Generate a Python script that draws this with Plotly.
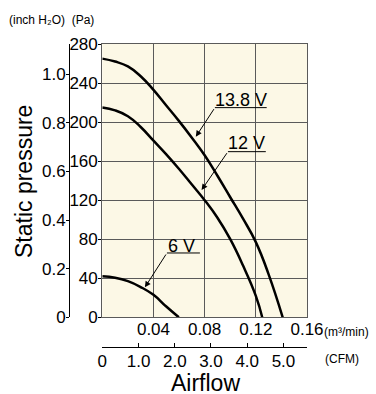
import plotly.graph_objects as go

# airflow (m3/min) vs static pressure (Pa)
q_138 = [0, 0.01, 0.02, 0.03, 0.04, 0.05, 0.06, 0.07, 0.08, 0.09, 0.10, 0.11, 0.12, 0.13, 0.141]
p_138 = [265, 262, 257, 247, 233, 217, 201, 184, 166, 145, 123, 101, 77, 44, 0]

q_12 = [0, 0.01, 0.02, 0.03, 0.04, 0.05, 0.06, 0.07, 0.08, 0.09, 0.10, 0.11, 0.12, 0.125]
p_12 = [215, 212, 206, 195, 181, 167, 152, 136, 120, 102, 80, 53, 22, 0]

q_6 = [0, 0.01, 0.02, 0.03, 0.04, 0.05, 0.0598]
p_6 = [42, 40.5, 37, 31, 23, 11, 0]

pa_ticks = [0, 40, 80, 120, 160, 200, 240, 280]
m3_ticks = [0.04, 0.08, 0.12, 0.16]
m3_labels = ["0.04", "0.08", "0.12", "0.16"]
inch_ticks = [0, 0.2, 0.4, 0.6, 0.8, 1.0]
inch_labels = ["0", "0.2", "0.4", "0.6", "0.8", "1.0"]
cfm_ticks = [0, 1, 2, 3, 4, 5]
cfm_labels = ["0", "1.0", "2.0", "3.0", "4.0", "5.0"]

PA_PER_INCH = 249.089
M3_PER_CFM = 0.0283168

W, H = 376, 394
ML, MR, MT, MB = 60, 69, 44, 44
PW, PH = W - ML - MR, H - MT - MB

def px(x):
    return (x - ML) / PW

def py(y):
    return (H - MB - y) / PH

TICKFONT = dict(family="Liberation Sans Narrow, Arial Narrow, Arial", size=17, color="black")
GRID = "#5a5a5a"

fig = go.Figure()
for q, p in [(q_138, p_138), (q_12, p_12), (q_6, p_6)]:
    fig.add_trace(go.Scatter(x=q, y=p, mode="lines",
                             line=dict(color="black", width=2.5, shape="spline", smoothing=1.3),
                             showlegend=False, hoverinfo="skip"))
# empty trace so the secondary (inch H2O / CFM) axes get drawn
fig.add_trace(go.Scatter(x=[], y=[], xaxis="x2", yaxis="y2", showlegend=False, hoverinfo="skip"))

fig.update_layout(
    width=W, height=H, margin=dict(l=ML, r=MR, t=MT, b=MB),
    paper_bgcolor="white", plot_bgcolor="#fcf8e6",
    font=dict(family="Arial, Liberation Sans", color="black"),
    xaxis=dict(domain=[px(102.3), 1], range=[0, 0.16], tickvals=m3_ticks, ticktext=m3_labels,
               showgrid=True, gridcolor=GRID, gridwidth=1.3, zeroline=False,
               showline=True, linecolor=GRID, linewidth=1.3, mirror=True, ticks="",
               tickfont=TICKFONT, ticklabelstandoff=-4, automargin=False),
    yaxis=dict(domain=[py(317.3), 1], range=[0, 280], tickvals=pa_ticks,
               showgrid=True, gridcolor=GRID, gridwidth=1.3, zeroline=False,
               showline=True, linecolor=GRID, linewidth=1.3, mirror=True,
               ticks="outside", ticklen=3, tickcolor="black", tickfont=TICKFONT,
               ticklabelstandoff=-3, automargin=False),
    yaxis2=dict(overlaying="y", anchor="free", position=px(69), side="left",
                range=[0, 280 / PA_PER_INCH], tickvals=inch_ticks, ticktext=inch_labels,
                showgrid=False, zeroline=False, showline=True, linecolor="black", linewidth=1,
                ticks="outside", ticklen=3, tickcolor="black", tickfont=TICKFONT,
                ticklabelstandoff=-3, automargin=False),
    xaxis2=dict(overlaying="x", anchor="free", position=py(346.7), side="bottom",
                range=[0, 0.16 / M3_PER_CFM], tickvals=cfm_ticks, ticktext=cfm_labels,
                showgrid=False, zeroline=False, showline=True, linecolor="black", linewidth=1,
                ticks="inside", ticklen=4, tickcolor="black", tickfont=TICKFONT,
                ticklabelstandoff=-1, automargin=False),
)

# voltage labels: text, underline, leader arrow (data coords)
labels = [
    ("13.8 V", 0.1083, 222.6, 0.0880, 0.1285, 214.8, 0.0731, 185),
    ("12 V", 0.1125, 178.6, 0.0982, 0.1278, 169.7, 0.0776, 130.4),
    ("6 V", 0.0618, 73, 0.0505, 0.0763, 65.9, 0.0333, 30.7),
]
for txt, tx, ty, ux0, ux1, uy, ax_, ay_ in labels:
    fig.add_annotation(x=tx, y=ty, text=txt, showarrow=False, font=dict(size=18))
    fig.add_shape(type="line", x0=ux0, x1=ux1, y0=uy, y1=uy, line=dict(color="black", width=1))
    fig.add_annotation(x=ax_, y=ay_, ax=ux0, ay=uy, axref="x", ayref="y", text="",
                       showarrow=True, arrowhead=2, arrowsize=1.2, arrowwidth=1, arrowcolor="black")

def note(text, x, y, size, xanchor="center", angle=0):
    fig.add_annotation(x=px(x), y=py(y), xref="paper", yref="paper", text=text, showarrow=False,
                       xanchor=xanchor, yanchor="middle", textangle=angle, font=dict(size=size))

note("(inch H₂O)  (Pa)", 7, 20, 12, xanchor="left")
note("Static pressure", 24, 182, 23, angle=-90)
note("Airflow", 205, 383, 23)
note("(m³/min)", 322, 332, 12, xanchor="left")
note("(CFM)", 323, 359, 12, xanchor="left")

fig.write_html("out.html", config={"displayModeBar": False},
               post_script="document.body.style.margin='0px';")
